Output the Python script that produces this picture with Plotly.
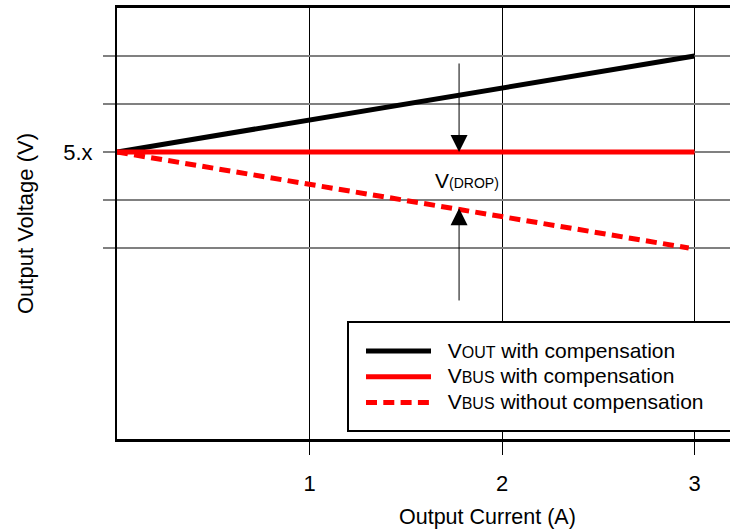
import plotly.graph_objects as go

# Data (relative voltage units; 0 == nominal 5.x V)
current = [0, 3]
vout_comp = [0, 2]
vbus_comp = [0, 0]
current_nocomp = [0, 2.97]
vbus_nocomp = [0, -2]

x_tickvals = [1, 2, 3]
x_ticktext = ["1", "2", "3"]
y_tickvals = [-2, -1, 0, 1, 2]
y_ticktext = ["", "", "5.x", "", ""]

legend_names = [("OUT", " with compensation"),
                ("BUS", " with compensation"),
                ("BUS", " without compensation")]

drop_x = 1.777
drop_top_tail = 1.875
drop_bottom_tail = -3.125
drop_bottom_head = -1.17
drop_label_x = 1.82
drop_label_y = -0.60

FONT = "Liberation Sans, Arial, sans-serif"

L, T, W, H = 117, 8, 730, 529
PW = W - L
PH = 439 - T


def px_x(p):
    return (p - L) / PW


def px_y(p):
    return (439 - p) / PH


def leg(name):
    sub, rest = name
    return ("<span style='font-size:21px'>&nbsp;&nbsp;V<span style='font-size:16px'>"
            + sub + "</span>" + rest + "</span>")


fig = go.Figure()
fig.add_trace(go.Scatter(x=current, y=vout_comp, mode="lines",
                         line=dict(color="black", width=5), name=leg(legend_names[0])))
fig.add_trace(go.Scatter(x=current, y=vbus_comp, mode="lines",
                         line=dict(color="#ff0000", width=5), name=leg(legend_names[1])))
fig.add_trace(go.Scatter(x=current_nocomp, y=vbus_nocomp, mode="lines",
                         line=dict(color="#ff0000", width=5, dash="11px,6.3px"),
                         name=leg(legend_names[2])))

# V(DROP) arrows and label
for head, tail in [(0, drop_top_tail), (drop_bottom_head, drop_bottom_tail)]:
    fig.add_annotation(x=drop_x, y=head, ax=drop_x, ay=tail, xref="x", yref="y",
                       axref="x", ayref="y", showarrow=True, arrowhead=2,
                       arrowsize=3.4, arrowwidth=1, arrowcolor="black", text="")
fig.add_annotation(x=drop_label_x, y=drop_label_y, xref="x", yref="y", showarrow=False,
                   text="V<span style='font-size:14px'>(DROP)</span>",
                   font=dict(family=FONT, size=21, color="black"))

# X axis title
fig.add_annotation(x=px_x(487), y=px_y(517), xref="paper", yref="paper", showarrow=False,
                   xanchor="center", yanchor="middle",
                   text="Output Current (A)", font=dict(family=FONT, size=21.5, color="black"))

# Legend frame (extends past the right edge like the reference)
fig.add_shape(type="rect", xref="paper", yref="paper",
              x0=px_x(348), x1=px_x(760), y0=px_y(431), y1=px_y(322),
              line=dict(color="black", width=2), fillcolor="white", layer="above")

fig.update_layout(
    width=W, height=H,
    margin=dict(l=L, r=0, t=T, b=H - 439, autoexpand=False),
    paper_bgcolor="white", plot_bgcolor="white",
    font=dict(family=FONT, size=22, color="black"),
    showlegend=True,
    legend=dict(x=px_x(361), y=px_y(333), xanchor="left", yanchor="top",
                borderwidth=0, bgcolor="rgba(0,0,0,0)",
                font=dict(family=FONT, size=17.5, color="black"),
                tracegroupgap=0, itemwidth=65),
)
fig.update_xaxes(range=[0, PW / 192.5], tickvals=x_tickvals, ticktext=x_ticktext,
                 showgrid=True, gridcolor="black", gridwidth=1,
                 ticks="outside", ticklen=13, tickcolor="black", tickwidth=1,
                 showline=True, linecolor="black", linewidth=3, mirror=True,
                 ticklabelstandoff=10, zeroline=False, fixedrange=True, automargin=False)
fig.update_yaxes(range=[-5.98, 3.0], tickvals=y_tickvals, ticktext=y_ticktext,
                 showgrid=True, gridcolor="#808080", gridwidth=2,
                 ticks="outside", ticklen=12, tickcolor="#808080", tickwidth=2,
                 showline=True, linecolor="black", linewidth=2, mirror=False,
                 ticklabelstandoff=6, zeroline=False, fixedrange=True, automargin=False,
                 title=dict(text="Output Voltage (V)", standoff=24,
                            font=dict(family=FONT, size=22, color="black")))

fig.write_html("out.html", config={"displayModeBar": False},
               post_script="document.body.style.margin='0';")
